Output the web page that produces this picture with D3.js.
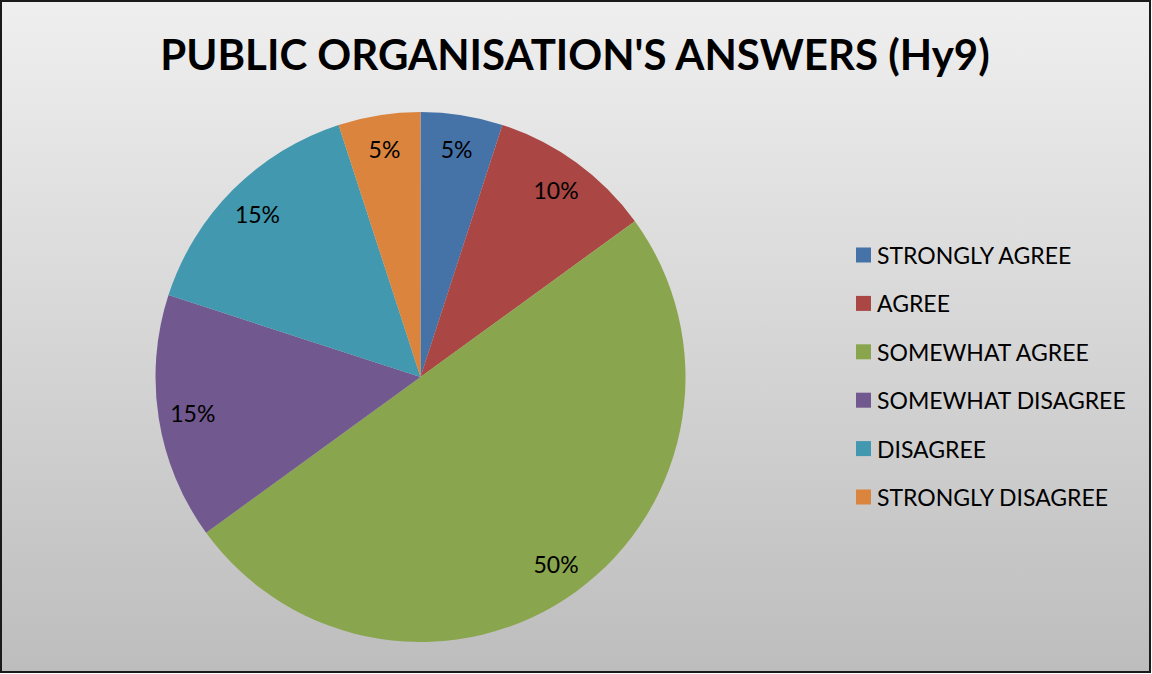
<!DOCTYPE html>
<html>
<head>
<meta charset="utf-8">
<script src="https://cdn.jsdelivr.net/npm/d3@7"></script>
<style>
  body { margin: 0; background: #fff; }
  svg { display: block; }
</style>
</head>
<body>
<svg id="chart" width="1152" height="674"></svg>
<script>
// Datos del gráfico
const categorias = ["STRONGLY AGREE", "AGREE", "SOMEWHAT AGREE", "SOMEWHAT DISAGREE", "DISAGREE", "STRONGLY DISAGREE"];
const valores = [5, 10, 50, 15, 15, 5];
const colores = ["#4572A7", "#AA4643", "#89A54E", "#71588F", "#4198AF", "#DB843D"];
const titulo = "PUBLIC ORGANISATION'S ANSWERS (Hy9)";

const svg = d3.select("#chart");
const W = 1152, H = 674;

// Fondo con degradado
const defs = svg.append("defs");
const grad = defs.append("linearGradient")
    .attr("id", "fondo").attr("x1", 0).attr("y1", 0).attr("x2", 0).attr("y2", 1);
grad.append("stop").attr("offset", "0%").attr("stop-color", "#efefef");
grad.append("stop").attr("offset", "100%").attr("stop-color", "#bdbdbd");

svg.append("rect")
    .attr("x", 1).attr("y", 1).attr("width", W - 3).attr("height", H - 3)
    .attr("fill", "url(#fondo)")
    .attr("stroke", "#1a1a1a").attr("stroke-width", 2);

// Título
svg.append("text")
    .attr("x", 575).attr("y", 70)
    .attr("text-anchor", "middle")
    .attr("font-family", "Lato, 'Open Sans', sans-serif")
    .attr("font-weight", "bold")
    .attr("font-size", 42)
    .attr("fill", "#000")
    .text(titulo);

// Pastel
const cx = 420.5, cy = 377, radio = 265;
const g = svg.append("g").attr("transform", `translate(${cx},${cy})`);

const pie = d3.pie().sort(null).value(d => d);
const arcs = pie(valores);

const arc = d3.arc().innerRadius(0).outerRadius(radio);
const arcEtiqueta = d3.arc().innerRadius(radio * 0.87).outerRadius(radio * 0.87);

g.selectAll("path")
    .data(arcs)
    .enter().append("path")
    .attr("d", arc)
    .attr("fill", (d, i) => colores[i]);

const total = d3.sum(valores);
g.selectAll("text.etiqueta")
    .data(arcs)
    .enter().append("text")
    .attr("class", "etiqueta")
    .attr("transform", d => `translate(${arcEtiqueta.centroid(d)})`)
    .attr("text-anchor", "middle")
    .attr("dominant-baseline", "central")
    .attr("font-family", "Lato, 'Open Sans', sans-serif")
    .attr("font-size", 23)
    .attr("fill", "#000")
    .text(d => Math.round(d.data / total * 100) + "%");

// Leyenda
const leyenda = svg.append("g").attr("transform", "translate(856,255)");
const filas = leyenda.selectAll("g")
    .data(categorias)
    .enter().append("g")
    .attr("transform", (d, i) => `translate(0,${i * 48.4})`);

filas.append("rect")
    .attr("x", 0).attr("y", -7.5)
    .attr("width", 15).attr("height", 15)
    .attr("fill", (d, i) => colores[i]);

filas.append("text")
    .attr("x", 21).attr("y", 0)
    .attr("dominant-baseline", "central")
    .attr("font-family", "Lato, 'Open Sans', sans-serif")
    .attr("font-size", 23)
    .attr("fill", "#000")
    .text(d => d);
</script>
</body>
</html>
